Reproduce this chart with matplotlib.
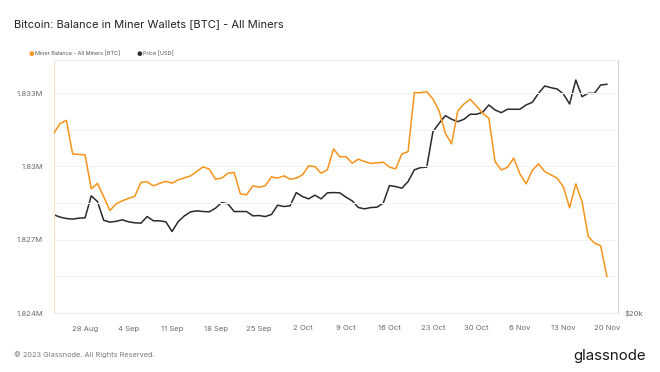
import matplotlib
matplotlib.use("Agg")
import matplotlib.pyplot as plt
import matplotlib.dates as mdates
import matplotlib.ticker as mticker
import pandas as pd

plt.rcParams['font.family'] = ['Inter', 'DejaVu Sans']

start_date = "2023-08-23"
n_days = 90

miner_balance = [
    1831374, 1831763, 1831886, 1830515, 1830495, 1830474, 1829084, 1829309, 1828757, 1828196,
    1828470, 1828593, 1828695, 1828777, 1829350, 1829370, 1829207, 1829309, 1829391, 1829317,
    1829452, 1829534, 1829616, 1829800, 1829984, 1829890, 1829481, 1829522, 1829726, 1829751,
    1828879, 1828838, 1829207, 1829153, 1829207, 1829575, 1829522, 1829616, 1829481, 1829522,
    1829656, 1830025, 1829996, 1829726, 1829861, 1830720, 1830393, 1830405, 1830135, 1830299,
    1830200, 1830127, 1830147, 1830176, 1829971, 1829902, 1830515, 1830609, 1833023, 1833023,
    1833063, 1832765, 1832274, 1831362, 1830924, 1832274, 1832560, 1832753, 1832479, 1832180,
    1831976, 1830200, 1829861, 1829963, 1830340, 1829697, 1829288, 1829841, 1830106, 1829791,
    1829656, 1829522, 1829166, 1828307, 1829288, 1828564, 1827133, 1826863, 1826753, 1825497,
]

price_usd = [
    26134, 25970, 25872, 25830, 25900, 25921, 27520, 27096, 25746, 25620,
    25676, 25781, 25641, 25571, 25550, 26013, 25711, 25711, 25641, 24972,
    25662, 26063, 26349, 26420, 26370, 26349, 26614, 27023, 26927, 26370,
    26370, 26370, 26063, 26084, 26013, 26155, 26833, 26731, 26782, 27768,
    27467, 27296, 27572, 27296, 27746, 27768, 27746, 27422, 27148, 26657,
    26565, 26657, 26687, 26978, 28302, 28226, 28102, 28612, 29538, 29724,
    29756, 32782, 33540, 34242, 33908, 33688, 33908, 34372, 34372, 34560,
    35254, 34778, 34524, 34844, 34844, 34844, 35254, 35514, 36394, 37126,
    36955, 36822, 36324, 35350, 37736, 36060, 36394, 36394, 37226, 37298,
]

left_ticks = [1824000, 1827000, 1830000, 1833000]
left_tick_labels = ["1.824M", "1.827M", "1.83M", "1.833M"]
grid_minor = [1825500, 1828500, 1831500]
right_ticks = [20000]
right_tick_labels = ["$20k"]
x_tick_dates = ["2023-08-28", "2023-09-04", "2023-09-11", "2023-09-18", "2023-09-25",
                "2023-10-02", "2023-10-09", "2023-10-16", "2023-10-23", "2023-10-30",
                "2023-11-06", "2023-11-13", "2023-11-20"]

dates = pd.date_range(start_date, periods=n_days, freq="D")

ORANGE = "#F7931A"
BLACK = "#2a2a2a"
GRAY_TXT = "#6b6b6b"

fig = plt.figure(figsize=(6.6, 3.72), dpi=100)
ax = fig.add_axes([54/660, 1-313/372, (618-54)/660, (313-60)/372])
ax2 = ax.twinx()

ax.plot(dates, miner_balance, color=ORANGE, lw=1.1, zorder=3)
ax2.plot(dates, price_usd, color=BLACK, lw=1.1, zorder=3)

ax.set_zorder(ax2.get_zorder() + 1)
ax.patch.set_visible(False)

ax.set_ylim(1824000, 1834360)
ax.set_yticks(left_ticks)
ax.set_yticklabels(left_tick_labels)
ax.set_yticks(grid_minor, minor=True)
ax.grid(True, which="both", axis="y", color="#f3f3f3", lw=0.8)
ax.tick_params(axis="y", which="both", length=0, labelsize=5.5, labelcolor=GRAY_TXT, pad=8)

ax.set_xlim(pd.Timestamp("2023-08-23"), pd.Timestamp("2023-11-21 19:00"))
ax.set_xticks(pd.to_datetime(x_tick_dates))
ax.xaxis.set_major_formatter(mdates.DateFormatter("%-d %b"))
ax.tick_params(axis="x", length=0, labelsize=5.5, labelcolor=GRAY_TXT, pad=9)

ax2.set_yscale("log")
ax2.set_ylim(20000, 39850)
ax2.yaxis.set_major_locator(mticker.FixedLocator(right_ticks))
ax2.yaxis.set_major_formatter(mticker.FixedFormatter(right_tick_labels))
ax2.yaxis.set_minor_locator(mticker.NullLocator())
ax2.tick_params(axis="y", length=0, labelsize=5.5, labelcolor=GRAY_TXT, pad=5)

for a in (ax, ax2):
    for s in a.spines.values():
        s.set_color("#ececec")
        s.set_linewidth(0.8)
ax.spines["left"].set_color("#fbe2c4")
ax2.spines["left"].set_visible(False)
ax.spines["right"].set_visible(False)
ax2.spines["right"].set_color("#d6d6d6")

fig.text(14/660, 1-24/372, "Bitcoin: Balance in Miner Wallets [BTC] - All Miners",
         fontsize=8.0, color="#222222", va="center", ha="left")

fig.text(31/660, 1-54/372, "\u25CF", fontsize=4.5, color=ORANGE, va="center", ha="center")
fig.text(35/660, 1-54/372, "Miner Balance - All Miners [BTC]", fontsize=4.0, color="#555555",
         va="center", ha="left")
fig.text(139/660, 1-54/372, "\u25CF", fontsize=4.5, color=BLACK, va="center", ha="center")
fig.text(143/660, 1-54/372, "Price [USD]", fontsize=4.0, color="#555555", va="center", ha="left")

fig.text(14/660, 1-355/372, "\u00A9 2023 Glassnode. All Rights Reserved.", fontsize=5.3,
         color="#7a7a7a", va="center", ha="left")
fig.text(646/660, 1-356/372, "glassnode", fontsize=10.8, color="#1a1a1a", va="center", ha="right")

fig.savefig("out.png", dpi=100)
